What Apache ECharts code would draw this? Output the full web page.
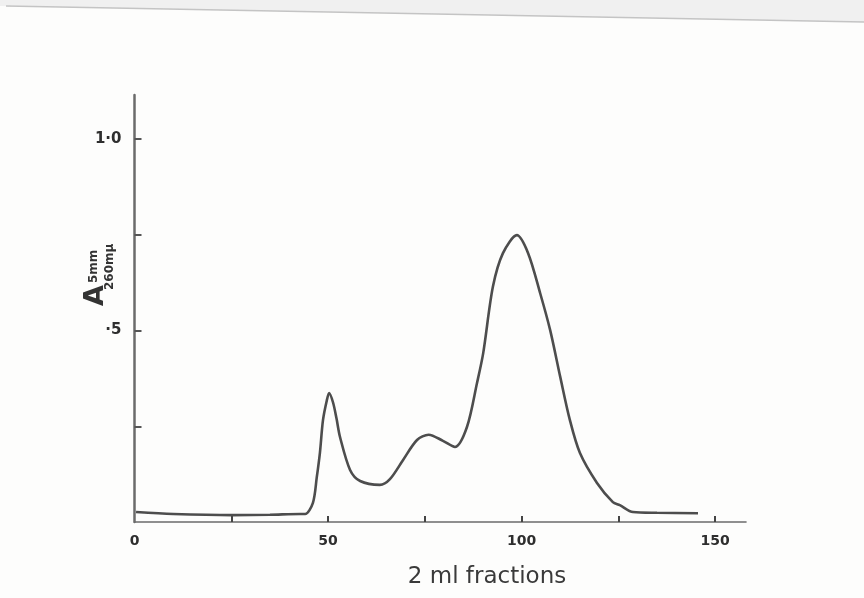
<!DOCTYPE html>
<html>
<head>
<meta charset="utf-8">
<script src="https://cdn.jsdelivr.net/npm/echarts@6/dist/echarts.min.js"></script>
<style>
  html, body { margin: 0; padding: 0; background: #fdfdfc; }
  #chart { width: 864px; height: 598px; }
</style>
</head>
<body>
<div id="chart"></div>
<script>
// Elution profile: absorbance of each 2 ml fraction
const fractions = [0.4, 10, 25.2, 35, 42.8, 44.1, 46.1, 47.1, 47.9, 48.7, 49.7, 50.3, 51.3, 52.2, 53.1, 55.7, 58.3,
  63.4, 66.0, 69.4, 73.0, 76.0, 79.7, 82.8, 85.9, 88.5, 90.1, 92.6, 95.2, 98.8, 101.7, 104.8,
  107.4, 110.0, 112.5, 115.1, 119.5, 123.6, 125.4, 128.8, 135, 145.6];
const absorbance = [0.026, 0.021, 0.018, 0.019, 0.021, 0.021, 0.050, 0.117, 0.180, 0.266, 0.318, 0.337, 0.312, 0.270, 0.222, 0.136, 0.107,
  0.097, 0.112, 0.162, 0.214, 0.228, 0.212, 0.196, 0.248, 0.363, 0.441, 0.614, 0.702, 0.749, 0.702, 0.598,
  0.501, 0.379, 0.266, 0.180, 0.102, 0.052, 0.044, 0.026, 0.024, 0.023];

// Tick positions and labels
const xTicks = [25, 50, 75, 100, 125, 150];
const xLabels = [0, 50, 100, 150];
const yTicks = [0.25, 0.5, 0.75, 1.0];
const yLabels = [0.5, 1.0];
const yLabelText = { '0.5': '\u00B75', '1': '1\u00B70' };

const ink = '#2e2e2e';
const axisInk = '#6b6b6b';
const hand = '"DejaVu Sans", sans-serif';

const chart = echarts.init(document.getElementById('chart'));
chart.setOption({
  backgroundColor: '#fdfdfc',
  animation: false,
  grid: { left: 134.5, right: 118, top: 95, bottom: 76 },
  xAxis: {
    type: 'value',
    min: 0,
    max: 158,
    splitLine: { show: false },
    axisLine: { show: true, lineStyle: { color: axisInk, width: 1.6 } },
    axisTick: { show: true, inside: true, length: 6, customValues: xTicks, lineStyle: { color: '#444', width: 2 } },
    axisLabel: {
      customValues: xLabels, margin: 12, color: ink,
      fontFamily: hand, fontWeight: 'bold', fontSize: 14
    }
  },
  yAxis: {
    type: 'value',
    min: 0,
    max: 1.115,
    offset: 3,
    splitLine: { show: false },
    axisLine: { show: true, lineStyle: { color: axisInk, width: 2.5 } },
    axisTick: { show: true, inside: true, length: 7, customValues: yTicks, lineStyle: { color: '#555', width: 2 } },
    axisLabel: {
      customValues: yLabels, margin: 10, color: ink,
      fontFamily: hand, fontWeight: 'bold', fontSize: 15,
      formatter: v => yLabelText[String(v)] || ''
    }
  },
  graphic: [
    // worn top edge of the sheet
    {
      type: 'polygon', silent: true,
      shape: { points: [[0, 0], [864, 0], [864, 22], [0, 6]] },
      style: { fill: '#f0f0f0' }
    },
    {
      type: 'polyline', silent: true,
      shape: { points: [[6, 6], [864, 22]] },
      style: { stroke: '#c4c4c4', lineWidth: 1.5, fill: null }
    },
    // x axis caption
    {
      type: 'text', x: 487, y: 577, silent: true,
      style: { text: '2 ml fractions', fontFamily: hand, fontSize: 23, fill: '#3a3a3a', textAlign: 'center', textVerticalAlign: 'middle' }
    },
    // absorbance label, written sideways along the y axis
    {
      type: 'group',
      x: 109, y: 306,
      rotation: Math.PI / 2,
      children: [
        { type: 'text', x: 0, y: 0,
          style: { text: 'A', fontFamily: hand, fontWeight: 'bold', fontSize: 27, fill: '#333', textAlign: 'left', textVerticalAlign: 'bottom' } },
        { type: 'text', x: 23, y: -9,
          style: { text: '5mm', fontFamily: hand, fontWeight: 'bold', fontSize: 12, fill: '#333', textAlign: 'left', textVerticalAlign: 'bottom' } },
        { type: 'text', x: 16, y: -5,
          style: { text: '260m\u03BC', fontFamily: hand, fontWeight: 'bold', fontSize: 12, fill: '#333', textAlign: 'left', textVerticalAlign: 'top' } }
      ]
    }
  ],
  series: [{
    type: 'line',
    data: fractions.map((f, i) => [f, absorbance[i]]),
    smooth: 0.3,
    showSymbol: false,
    lineStyle: { color: '#4d4d4d', width: 2.6 }
  }]
});
</script>
</body>
</html>
